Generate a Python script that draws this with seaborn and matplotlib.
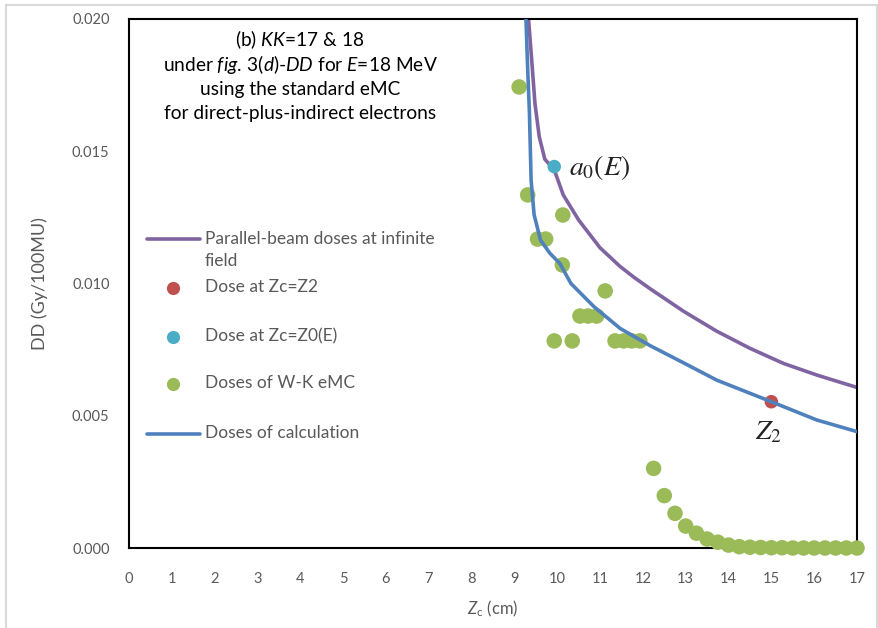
import numpy as np
import matplotlib
matplotlib.use("Agg")
import matplotlib.pyplot as plt
from matplotlib.lines import Line2D
import seaborn as sns

# Parallel-beam doses at infinite field (purple curve)
par_z = [9.33, 9.42, 9.48, 9.58, 9.71, 9.93, 10.14, 10.50, 11.00, 11.47, 11.78, 12.17,
         12.95, 13.72, 14.50, 15.28, 16.06, 17.00]
par_dd = [0.0200, 0.0181, 0.0168, 0.01555, 0.0147, 0.0143, 0.01335, 0.0124, 0.01135,
          0.01064, 0.01025, 0.0098, 0.00895, 0.0082, 0.00755, 0.00698, 0.00654, 0.00607]

# Doses of calculation (blue curve)
calc_z = [9.27, 9.31, 9.35, 9.39, 9.46, 9.61, 9.83, 10.06, 10.32, 10.86, 11.47,
          12.17, 12.95, 13.72, 14.50, 15.00, 16.06, 17.00]
calc_dd = [0.0200, 0.0181, 0.0165, 0.0139, 0.0126, 0.01164, 0.01114, 0.01076, 0.0100,
           0.00912, 0.0083, 0.00765, 0.0070, 0.00635, 0.00585, 0.00553, 0.00484, 0.0044]

# Doses of W-K eMC (green points)
wk_z = [9.11, 9.31, 9.54, 9.73, 9.93, 10.12, 10.13, 10.35, 10.53, 10.72, 10.92, 11.12,
        11.35, 11.55, 11.74, 11.93,
        12.25, 12.50, 12.75, 13.00, 13.25, 13.50, 13.75, 14.00, 14.25, 14.50, 14.75,
        15.00, 15.25, 15.50, 15.75, 16.00, 16.25, 16.50, 16.75, 17.00]
wk_dd = [0.01743, 0.01335, 0.01168, 0.01168, 0.00783, 0.01070, 0.01259, 0.00783,
         0.00877, 0.00877, 0.00877, 0.00972, 0.00783, 0.00783, 0.00783, 0.00783,
         0.00301, 0.00198, 0.00131, 0.00083, 0.00056, 0.00034, 0.00022, 0.00011,
         0.00005, 0.00003, 0.00002, 0.00001, 0.00001, 0.0, 0.0, 0.0, 0.0, 0.0, 0.0, 0.0]

# Dose at Zc = Z2 and at Zc = Z0(E)
z2_z, z2_dd = [15.0], [0.00553]
z0_z, z0_dd = [9.93], [0.01442]

x_ticks = list(range(0, 18))
y_ticks = [0.000, 0.005, 0.010, 0.015, 0.020]

PURPLE = "#8064A2"
BLUE = "#4F81BD"
GREEN = "#9BBB59"
RED = "#C0504D"
CYAN = "#4BACC6"
GRAY = "#595959"

sns.set_theme(style="white")
plt.rcParams["font.family"] = ["Lato", "DejaVu Sans"]
plt.rcParams["mathtext.fontset"] = "custom"
plt.rcParams["mathtext.rm"] = "Lato"
plt.rcParams["mathtext.it"] = "Lato:italic"
plt.rcParams["mathtext.bf"] = "Lato:bold"

W, H = 879, 628
fig = plt.figure(figsize=(W / 100, H / 100), dpi=100, facecolor="white")
ax = fig.add_axes([129 / W, 1 - 548 / H, 728 / W, 529 / H])
ax.set_facecolor("white")

sns.lineplot(x=par_z, y=par_dd, ax=ax, color=PURPLE, lw=2.6, sort=False,
             estimator=None, zorder=2)
sns.scatterplot(x=z2_z, y=z2_dd, ax=ax, color=RED, s=95, edgecolor="none", zorder=3)
sns.scatterplot(x=z0_z, y=z0_dd, ax=ax, color=CYAN, s=95, edgecolor="none", zorder=4)
sns.scatterplot(x=wk_z, y=wk_dd, ax=ax, color=GREEN, s=125, edgecolor="none",
                zorder=5, clip_on=False)
sns.lineplot(x=calc_z, y=calc_dd, ax=ax, color=BLUE, lw=2.6, sort=False,
             estimator=None, zorder=6)

ax.set_xlim(0, 17)
ax.set_ylim(0, 0.020)
ax.set_xticks(x_ticks)
ax.set_xticks(np.arange(0.5, 17, 1.0), minor=True)
ax.set_yticks(y_ticks)
ax.set_yticks(np.arange(0, 0.0201, 0.001), minor=True)
ax.set_xticklabels([str(v) for v in x_ticks])
ax.set_yticklabels([f"{v:.3f}" for v in y_ticks])

for side in ["left", "bottom", "top", "right"]:
    ax.spines[side].set_visible(True)
    ax.spines[side].set_color("black")
    ax.spines[side].set_linewidth(1.5)

ax.tick_params(axis="both", which="major", direction="inout", length=8, width=1.2,
               color="black", labelcolor=GRAY, labelsize=10.5, top=False, right=False)
ax.tick_params(axis="both", which="minor", direction="out", length=4, width=1.2,
               color="black", top=False, right=False)
ax.tick_params(axis="x", which="major", pad=13)
ax.tick_params(axis="y", which="major", pad=10)

ax.set_xlabel(r"$Z_{\mathrm{c}}$ (cm)", color=GRAY, fontsize=12, labelpad=9)
ax.set_ylabel("DD (Gy/100MU)", color=GRAY, fontsize=13, labelpad=17)

# Description block
title_lines = [
    r"(b) $\mathit{KK}$=17 & 18",
    r"under $\mathit{fig.\,3(d)}$-$\mathit{DD}$ for $\mathit{E}$=18 MeV",
    "using the standard eMC",
    "for direct-plus-indirect electrons",
]


def fx(px):
    return (px - 129) / 728


def fy(py):
    return (548 - py) / 529


for i, line in enumerate(title_lines):
    ax.text(fx(300), fy(40 + 24.5 * i), line, transform=ax.transAxes, ha="center",
            va="center", fontsize=13.8, color="black")

# Point labels
ax.text(10.28, 0.0144, r"$a_0(E)$", math_fontfamily="stix", fontsize=20,
        va="center", ha="left", color="#222222")
ax.text(14.92, 0.00440, r"$Z_2$", math_fontfamily="stix", fontsize=20,
        va="center", ha="center", color="#222222")

# Legend
leg_items = [
    ("line", PURPLE, 239, "Parallel-beam doses at infinite\nfield"),
    ("dot", RED, 288, "Dose at Zc=Z2"),
    ("dot", CYAN, 337, "Dose at Zc=Z0(E)"),
    ("dot", GREEN, 384, "Doses of W-K eMC"),
    ("line", BLUE, 434, "Doses of calculation"),
]
for kind, col, py, label in leg_items:
    if kind == "line":
        ax.add_line(Line2D([fx(147), fx(200)], [fy(py), fy(py)], transform=ax.transAxes,
                           color=col, lw=2.6, solid_capstyle="round"))
    else:
        ax.add_line(Line2D([fx(173)], [fy(py)], transform=ax.transAxes, color=col,
                           marker="o", markersize=9.5, markeredgewidth=0, linestyle="none"))
    ax.text(fx(205), fy(py - 8.5), label, transform=ax.transAxes, ha="left", va="top",
            fontsize=12.5, color=GRAY, linespacing=1.5)

# Chart area border
for xs, ys in [([6 / W, 6 / W], [0, 1 - 5 / H]),
               ([6 / W, 1], [1 - 5 / H, 1 - 5 / H]),
               ([1 - 1.5 / W, 1 - 1.5 / W], [0, 1 - 5 / H])]:
    fig.add_artist(Line2D(xs, ys, transform=fig.transFigure, color="#D9D9D9", lw=1.5))

fig.savefig("out.png", dpi=100, facecolor="white")
